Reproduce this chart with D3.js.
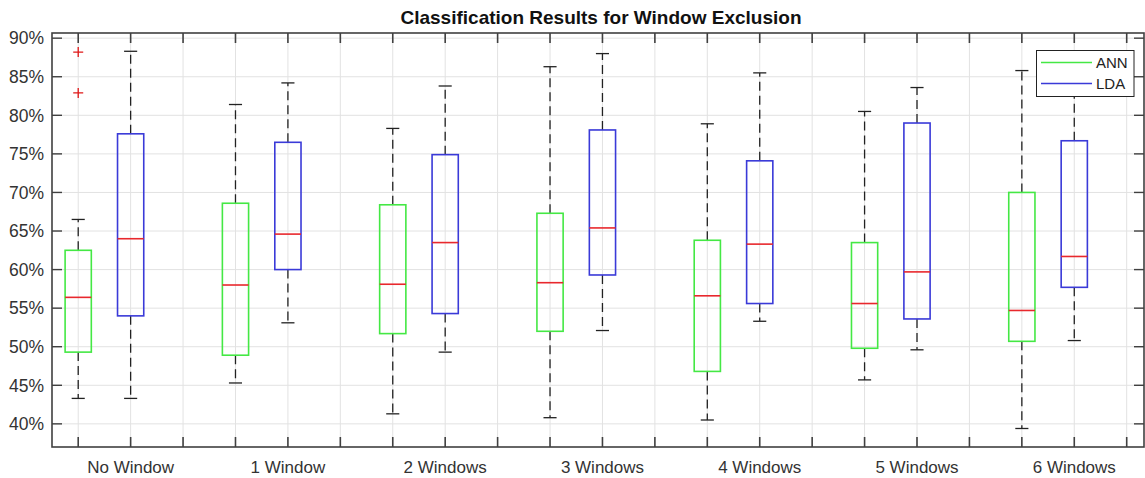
<!DOCTYPE html>
<html>
<head>
<meta charset="utf-8">
<script src="https://cdn.jsdelivr.net/npm/d3@7"></script>
<style>
  html, body { margin: 0; padding: 0; background: #fff; }
  svg { display: block; font-family: "Liberation Sans", Arial, Helvetica, sans-serif; }
</style>
</head>
<body>
<svg id="chart" width="1145" height="478"></svg>
<script>
// Group labels (one per pair of boxes)
const categories = ["No Window", "1 Window", "2 Windows", "3 Windows", "4 Windows", "5 Windows", "6 Windows"];
const seriesNames = ["ANN", "LDA"];

// ANN box statistics (% accuracy)
const annLowerWhisker = [43.3, 45.3, 41.3, 40.8, 40.5, 45.7, 39.4];
const annQ1           = [49.3, 48.9, 51.7, 52.0, 46.8, 49.8, 50.7];
const annMedian       = [56.4, 58.0, 58.1, 58.3, 56.6, 55.6, 54.7];
const annQ3           = [62.5, 68.6, 68.4, 67.3, 63.8, 63.5, 70.0];
const annUpperWhisker = [66.5, 81.4, 78.3, 86.3, 78.9, 80.5, 85.8];
const annOutliers     = [[88.2, 82.9], [], [], [], [], [], []];

// LDA box statistics (% accuracy)
const ldaLowerWhisker = [43.3, 53.1, 49.3, 52.1, 53.3, 49.6, 50.8];
const ldaQ1           = [54.0, 60.0, 54.3, 59.3, 55.6, 53.6, 57.7];
const ldaMedian       = [64.0, 64.6, 63.5, 65.4, 63.3, 59.7, 61.7];
const ldaQ3           = [77.6, 76.5, 74.9, 78.1, 74.1, 79.0, 76.7];
const ldaUpperWhisker = [88.3, 84.2, 83.8, 88.0, 85.5, 83.6, 87.0];
const ldaOutliers     = [[], [], [], [], [], [], []];

// Axis ticks
const yTicks = [40, 45, 50, 55, 60, 65, 70, 75, 80, 85, 90];
const xTickPositions = d3.range(1, 22);

const titleText = "Classification Results for Window Exclusion";

const svg = d3.select("#chart");
const plot = { left: 52, right: 1144, top: 33, bottom: 447 };

const x = d3.scaleLinear().domain([0.5, 21.33]).range([plot.left, plot.right]);
const y = d3.scaleLinear().domain([37, 90.67]).range([plot.bottom, plot.top]);

const colors = { ANN: "#44e844", LDA: "#3a3ad8" };
const medianColor = "#e8282d";
const axisColor = "#404040";
const gridColor = "#e2e2e2";
const tickLen = 10;

// Build box records from the arrays: group i, ANN at slot 3i+1, LDA at 3i+2
const boxes = [];
categories.forEach((c, i) => {
  boxes.push({ series: "ANN", pos: 3 * i + 1, lw: annLowerWhisker[i], q1: annQ1[i], med: annMedian[i], q3: annQ3[i], uw: annUpperWhisker[i], out: annOutliers[i] });
  boxes.push({ series: "LDA", pos: 3 * i + 2, lw: ldaLowerWhisker[i], q1: ldaQ1[i], med: ldaMedian[i], q3: ldaQ3[i], uw: ldaUpperWhisker[i], out: ldaOutliers[i] });
});

// Grid
const grid = svg.append("g");
grid.selectAll("line.vg").data(xTickPositions).join("line")
  .attr("x1", d => x(d)).attr("x2", d => x(d))
  .attr("y1", plot.top).attr("y2", plot.bottom)
  .attr("stroke", gridColor).attr("stroke-width", 1);
grid.selectAll("line.hg").data(yTicks).join("line")
  .attr("x1", plot.left).attr("x2", plot.right)
  .attr("y1", d => y(d)).attr("y2", d => y(d))
  .attr("stroke", gridColor).attr("stroke-width", 1);

// Boxes
const boxHalf = 0.25;  // in slot units
const capHalf = 0.125;
const g = svg.append("g");
const b = g.selectAll("g.box").data(boxes).join("g");

// whiskers (dashed)
b.append("line")
  .attr("x1", d => x(d.pos)).attr("x2", d => x(d.pos))
  .attr("y1", d => y(d.q3)).attr("y2", d => y(d.uw))
  .attr("stroke", "#222").attr("stroke-width", 1.3).attr("stroke-dasharray", "9,5");
b.append("line")
  .attr("x1", d => x(d.pos)).attr("x2", d => x(d.pos))
  .attr("y1", d => y(d.q1)).attr("y2", d => y(d.lw))
  .attr("stroke", "#222").attr("stroke-width", 1.3).attr("stroke-dasharray", "9,5");
// caps
b.append("line")
  .attr("x1", d => x(d.pos - capHalf)).attr("x2", d => x(d.pos + capHalf))
  .attr("y1", d => y(d.uw)).attr("y2", d => y(d.uw))
  .attr("stroke", "#222").attr("stroke-width", 1.3);
b.append("line")
  .attr("x1", d => x(d.pos - capHalf)).attr("x2", d => x(d.pos + capHalf))
  .attr("y1", d => y(d.lw)).attr("y2", d => y(d.lw))
  .attr("stroke", "#222").attr("stroke-width", 1.3);
// box body
b.append("rect")
  .attr("x", d => x(d.pos - boxHalf))
  .attr("width", d => x(d.pos + boxHalf) - x(d.pos - boxHalf))
  .attr("y", d => y(d.q3))
  .attr("height", d => y(d.q1) - y(d.q3))
  .attr("fill", "none")
  .attr("stroke", d => colors[d.series]).attr("stroke-width", 1.6);
// median
b.append("line")
  .attr("x1", d => x(d.pos - boxHalf)).attr("x2", d => x(d.pos + boxHalf))
  .attr("y1", d => y(d.med)).attr("y2", d => y(d.med))
  .attr("stroke", medianColor).attr("stroke-width", 1.6);
// outliers as "+"
b.each(function(d) {
  const sel = d3.select(this);
  d.out.forEach(v => {
    const cx = x(d.pos), cy = y(v), r = 5;
    sel.append("path")
      .attr("d", `M${cx - r},${cy}H${cx + r}M${cx},${cy - r}V${cy + r}`)
      .attr("stroke", "#e01818").attr("stroke-width", 1.3).attr("fill", "none");
  });
});

// Axes frame and inward ticks
const axes = svg.append("g");
axes.append("rect")
  .attr("x", plot.left).attr("y", plot.top)
  .attr("width", plot.right - plot.left).attr("height", plot.bottom - plot.top)
  .attr("fill", "none").attr("stroke", axisColor).attr("stroke-width", 1.6);

axes.selectAll("line.xb").data(xTickPositions).join("line")
  .attr("x1", d => x(d)).attr("x2", d => x(d))
  .attr("y1", plot.bottom).attr("y2", plot.bottom - tickLen)
  .attr("stroke", axisColor).attr("stroke-width", 1.6);
axes.selectAll("line.xt").data(xTickPositions).join("line")
  .attr("x1", d => x(d)).attr("x2", d => x(d))
  .attr("y1", plot.top).attr("y2", plot.top + tickLen)
  .attr("stroke", axisColor).attr("stroke-width", 1.6);
axes.selectAll("line.yl").data(yTicks).join("line")
  .attr("x1", plot.left).attr("x2", plot.left + tickLen)
  .attr("y1", d => y(d)).attr("y2", d => y(d))
  .attr("stroke", axisColor).attr("stroke-width", 1.4);
axes.selectAll("line.yr").data(yTicks).join("line")
  .attr("x1", plot.right).attr("x2", plot.right - tickLen)
  .attr("y1", d => y(d)).attr("y2", d => y(d))
  .attr("stroke", axisColor).attr("stroke-width", 1.4);

// Y tick labels
axes.selectAll("text.yl").data(yTicks).join("text")
  .attr("x", plot.left - 8).attr("y", d => y(d)).attr("dy", "0.36em")
  .attr("text-anchor", "end").attr("font-size", 17.5).attr("fill", "#333")
  .text(d => d + "%");

// X category labels (under the LDA slot of each group)
axes.selectAll("text.xl").data(categories).join("text")
  .attr("x", (d, i) => x(3 * i + 2)).attr("y", 473)
  .attr("text-anchor", "middle").attr("font-size", 17).attr("fill", "#333")
  .text(d => d);

// Title
svg.append("text")
  .attr("x", (plot.left + plot.right) / 2 + 3).attr("y", 24)
  .attr("text-anchor", "middle").attr("font-size", 19).attr("font-weight", "bold").attr("fill", "#111")
  .text(titleText);

// Legend
const leg = svg.append("g");
leg.append("rect")
  .attr("x", 1036.5).attr("y", 50.5).attr("width", 97.5).attr("height", 46)
  .attr("fill", "#fff").attr("stroke", "#222").attr("stroke-width", 1);
seriesNames.forEach((s, i) => {
  const ly = 62.5 + i * 21;
  leg.append("line")
    .attr("x1", 1041).attr("x2", 1092).attr("y1", ly).attr("y2", ly)
    .attr("stroke", colors[s]).attr("stroke-width", 1.4);
  leg.append("text")
    .attr("x", 1096).attr("y", ly).attr("dy", "0.36em")
    .attr("font-size", 15).attr("fill", "#222").text(s);
});
</script>
</body>
</html>
